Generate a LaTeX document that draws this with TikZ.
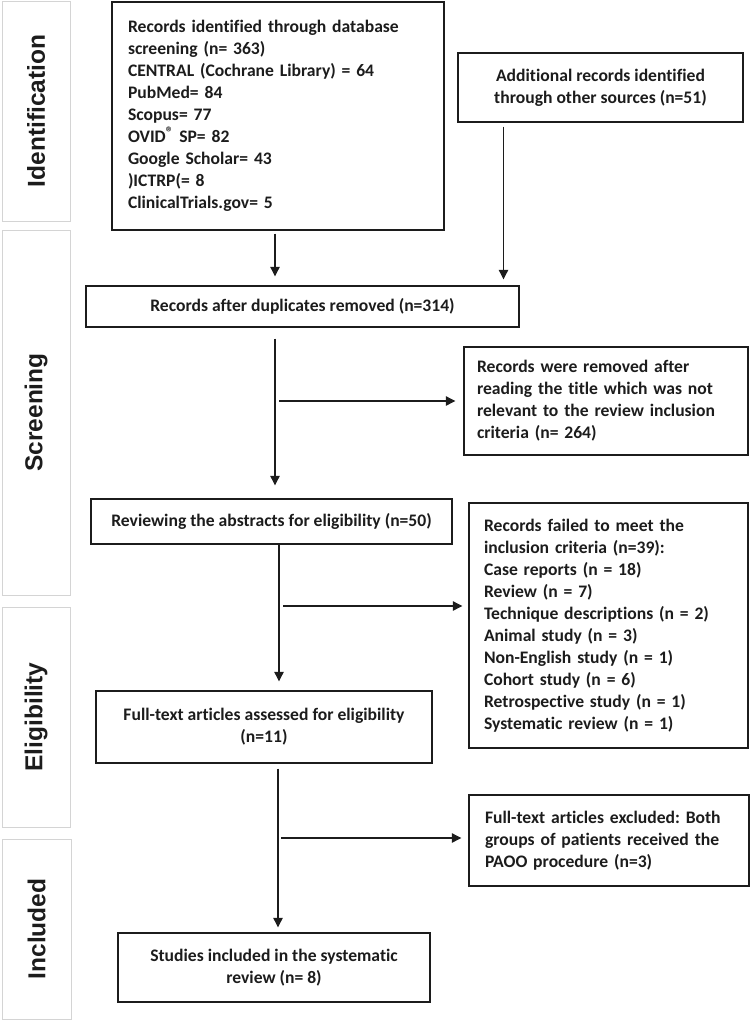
\documentclass[tikz,border=0pt]{standalone}
\usepackage{fontspec}
\setmainfont{Carlito}[Ligatures={NoCommon}]
\newfontfamily\sidefont{Liberation Sans}
\usetikzlibrary{arrows.meta}
\definecolor{ink}{HTML}{1C1C1C}
\definecolor{sidegrey}{HTML}{D4D4D4}
\frenchspacing
\tikzset{
  x=1pt, y=-1pt,
  mainbox/.style={draw=ink, line width=1.4pt, text=ink, inner ysep=0pt,
    font=\fontsize{17.6}{22}\selectfont\bfseries},
  sidebox/.style={draw=sidegrey, line width=1pt},
  sidelabel/.style={rotate=90, text=ink, font=\sidefont\fontsize{24.5}{26}\selectfont\bfseries},
  arr/.style={draw=ink, line width=1.1pt, -{Triangle[width=9.5pt,length=9.5pt]}},
}
\begin{document}
\begin{tikzpicture}
\useasboundingbox (0,0) rectangle (750,1020);
% side phase boxes
\node[sidebox, minimum width=68pt, minimum height=220pt, inner sep=0pt] (s1) at (36,111) {};
\node[sidebox, minimum width=68pt, minimum height=365pt, inner sep=0pt] (s2) at (36,412.5) {};
\node[sidebox, minimum width=68pt, minimum height=220pt, inner sep=0pt] (s3) at (36,717) {};
\node[sidebox, minimum width=69pt, minimum height=180pt, inner sep=0pt] (s4) at (36.5,929) {};
\node[sidelabel] (l1) at (s1.center) {Identification};
\node[sidelabel] (l2) at (s2.center) {Screening};
\node[sidelabel] (l3) at (s3.center) {Eligibility};
\node[sidelabel] (l4) at (s4.center) {Included};
% main boxes
\node[mainbox, minimum height=228pt, inner xsep=16pt, text width=300pt, align=left] (b1) at (278,116) {Records identified through database\\screening (n= 363)\\CENTRAL (Cochrane Library) = 64\\PubMed= 84\\Scopus= 77\\OVID\raisebox{0.3em}{\fontsize{15}{15}\selectfont ®} SP= 82\\Google Scholar= 43\\)ICTRP(= 8\\ClinicalTrials.gov= 5};
\node[mainbox, minimum width=285pt, minimum height=69pt, align=center] (b2) at (600.5,87.5) {Additional records identified\\through other sources (n=51)};
\node[mainbox, minimum width=433pt, minimum height=41pt] (b3) at (302.5,306.5) {Records after duplicates removed (n=314)};
\node[mainbox, minimum height=108pt, inner xsep=13pt, text width=258pt, align=left] (b4) at (606,401) {Records were removed after\\reading the title which was not\\relevant to the review inclusion\\criteria (n= 264)};
\node[mainbox, minimum width=361pt, minimum height=45pt] (b5) at (271.5,521.5) {Reviewing the abstracts for eligibility (n=50)};
\node[mainbox, minimum height=245pt, inner xsep=15pt, text width=249pt, align=left] (b6) at (608.5,625.5) {Records failed to meet the\\inclusion criteria (n=39):\\Case reports (n = 18)\\Review (n = 7)\\Technique descriptions (n = 2)\\Animal study (n = 3)\\Non-English study (n = 1)\\Cohort study (n = 6)\\Retrospective study (n = 1)\\Systematic review (n = 1)};
\node[mainbox, minimum width=336pt, minimum height=72pt, align=center] (b7) at (264,727) {Full-text articles assessed for eligibility\\(n=11)};
\node[mainbox, minimum height=91pt, inner xsep=16pt, text width=248pt, align=left] (b8) at (609,840.5) {Full-text articles excluded: Both\\groups of patients received the\\PAOO procedure (n=3)};
\node[mainbox, minimum width=312pt, minimum height=69pt, align=center] (b9) at (274,967.5) {Studies included in the systematic\\review (n= 8)};
% connector columns
\coordinate (x1) at (275,0);
\coordinate (x2) at (503.5,0);
\coordinate (x3) at (275,0);
\coordinate (x4) at (279,0);
\coordinate (x5) at (278,0);
\coordinate (j1) at (279,401);
\coordinate (j2) at (283,606);
\coordinate (j3) at (281,838);
% connectors
\draw[arr, shorten <=3pt, shorten >=9pt] (x1 |- b1.south) -- (x1 |- b3.north);
\draw[arr, shorten <=4pt, shorten >=6pt] (x2 |- b2.south) -- (x2 |- b3.north);
\draw[arr, shorten <=11pt, shorten >=13pt] (x3 |- b3.south) -- (x3 |- b5.north);
\draw[arr, shorten >=8pt] (j1) -- (j1 -| b4.west);
\draw[arr, shorten >=9pt] (x4 |- b5.south) -- (x4 |- b7.north);
\draw[arr, shorten >=6pt] (j2) -- (j2 -| b6.west);
\draw[arr, shorten <=5pt, shorten >=5pt] (x5 |- b7.south) -- (x5 |- b9.north);
\draw[arr, shorten >=7pt] (j3) -- (j3 -| b8.west);
\end{tikzpicture}
\end{document}
